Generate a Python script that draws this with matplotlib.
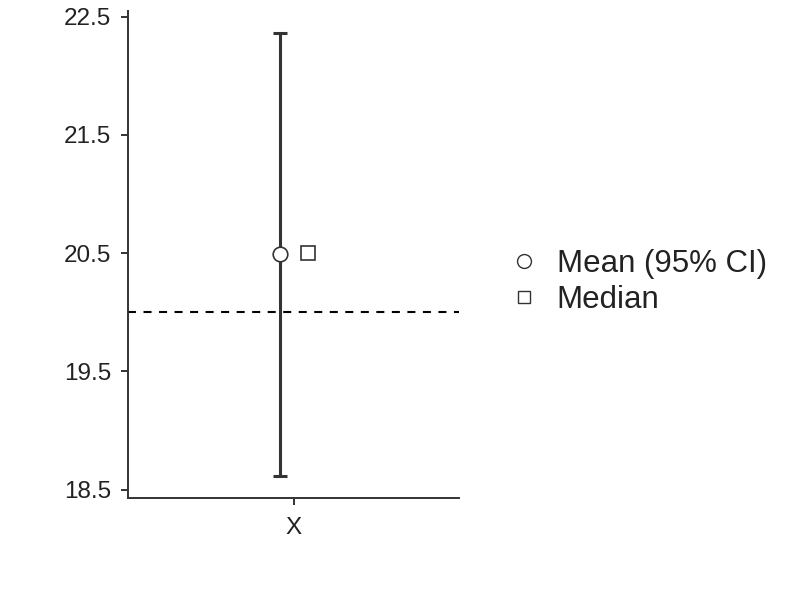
import matplotlib
matplotlib.use("Agg")
import matplotlib.pyplot as plt
from matplotlib.lines import Line2D

# data
categories = ["X"]
mean_vals = [20.49]
ci_low = [18.62]
ci_high = [22.36]
median_vals = [20.5]
ref_line = 20.0
y_ticks = [18.5, 19.5, 20.5, 21.5, 22.5]

dark = "#333333"
plt.rcParams["font.family"] = ["Liberation Sans", "DejaVu Sans"]

fig = plt.figure(figsize=(8, 6), dpi=100)
ax = fig.add_axes([0.16, 0.17, 0.414, 0.812])

x = list(range(1, len(categories) + 1))
off = 0.042
xm = [v - off for v in x]
xd = [v + off for v in x]
yerr = [[m - lo for m, lo in zip(mean_vals, ci_low)],
        [hi - m for m, hi in zip(mean_vals, ci_high)]]

ax.axhline(ref_line, color="black", lw=1.5, dashes=(3.85, 3.6), zorder=1)
ax.errorbar(xm, mean_vals, yerr=yerr, fmt="none", ecolor=dark,
            elinewidth=2.2, capsize=5, capthick=2.2, zorder=2)
ax.plot(xm, mean_vals, "o", ms=10.5, mfc="white", mec=dark, mew=1.2, zorder=3)
ax.plot(xd, median_vals, "s", ms=9.5, mfc="white", mec=dark, mew=1.2, zorder=3)

ax.set_xlim(0.5, 1.5)
ax.set_ylim(18.43, 22.55)
ax.set_xticks(x)
ax.set_xticklabels(categories)
ax.set_yticks(y_ticks)
ax.set_yticklabels([f"{t:.1f}" for t in y_ticks])

for side in ["top", "right"]:
    ax.spines[side].set_visible(False)
for side in ["left", "bottom"]:
    ax.spines[side].set_color(dark)
    ax.spines[side].set_linewidth(1.4)
ax.tick_params(axis="both", direction="out", length=5, width=1.4,
               color=dark, labelcolor="#222222", labelsize=17.5)
ax.tick_params(axis="y", pad=7)
ax.tick_params(axis="x", pad=9)

handles = [
    Line2D([], [], ls="none", marker="o", ms=10, mfc="white", mec=dark, mew=1),
    Line2D([], [], ls="none", marker="s", ms=8, mfc="white", mec=dark, mew=1),
]
fig.legend(handles, ["Mean (95% CI)", "Median"], loc="center left",
           bbox_to_anchor=(0.602, 0.53), frameon=False, fontsize=22.5,
           handlelength=0.9, handletextpad=0.6, labelspacing=0.18,
           labelcolor="#222222")

fig.savefig("out.png", dpi=100)
